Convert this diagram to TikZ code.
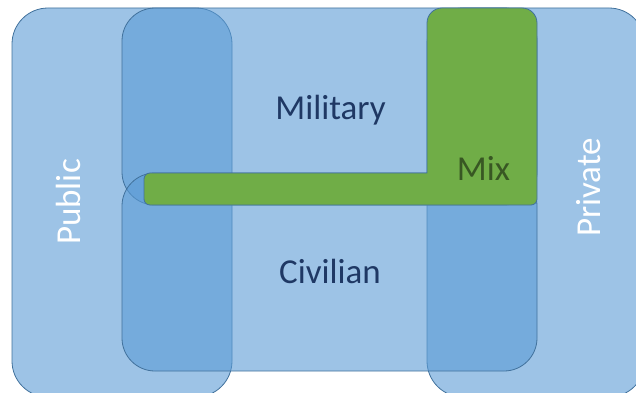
\documentclass[tikz,border=0pt]{standalone}
\usepackage{fontspec}
\setmainfont{Carlito}
\definecolor{blueFill}{HTML}{5B9BD5}
\definecolor{edgeBlue}{HTML}{41719C}
\definecolor{mixGreen}{HTML}{70AD47}
\definecolor{darkBlueText}{HTML}{1F3864}
\definecolor{darkGreenText}{HTML}{385723}
\tikzset{
  region/.style={fill=blueFill, fill opacity=0.6, draw=edgeBlue, line width=0.8pt, rounded corners=#1},
  region/.default=36pt,
  label/.style={font=\fontsize{35}{42}\selectfont, inner sep=0pt, anchor=base},
}
\begin{document}
\begin{tikzpicture}[x=1pt,y=1pt]
\useasboundingbox (0,0) rectangle (636,392);
\clip (0,0) rectangle (636,392);
% Public / Private (vertical)
\path[region=36pt] (12,384) rectangle (232,-5);
\path[region=36pt] (427,384) rectangle (645,-5);
% Military / Civilian (horizontal)
\path[region=33pt] (122,384) rectangle (537,187);
\path[region=33pt] (122,219) rectangle (537,21);
% Mix (L shape)
\path[fill=mixGreen, draw=edgeBlue, line width=0.8pt]
  (427,219) -- (427,369) arc[start angle=180,end angle=90,radius=15]
  -- (522,384) arc[start angle=90,end angle=0,radius=15]
  -- (537,193) arc[start angle=0,end angle=-90,radius=6]
  -- (150,187) arc[start angle=270,end angle=180,radius=6]
  -- (144,213) arc[start angle=180,end angle=90,radius=6]
  -- cycle;
% Labels
\node[label, text=darkBlueText] (military) at (330.5,273) {Military};
\node[label, text=darkBlueText] (civilian) at (330,109) {Civilian};
\node[label, text=darkGreenText] (mix) at (483.5,212) {Mix};
\node[label, text=white, rotate=90] (public) at (80,190) {Public};
\node[label, text=white, rotate=90] (private) at (600,204.5) {Private};
\end{tikzpicture}
\end{document}
